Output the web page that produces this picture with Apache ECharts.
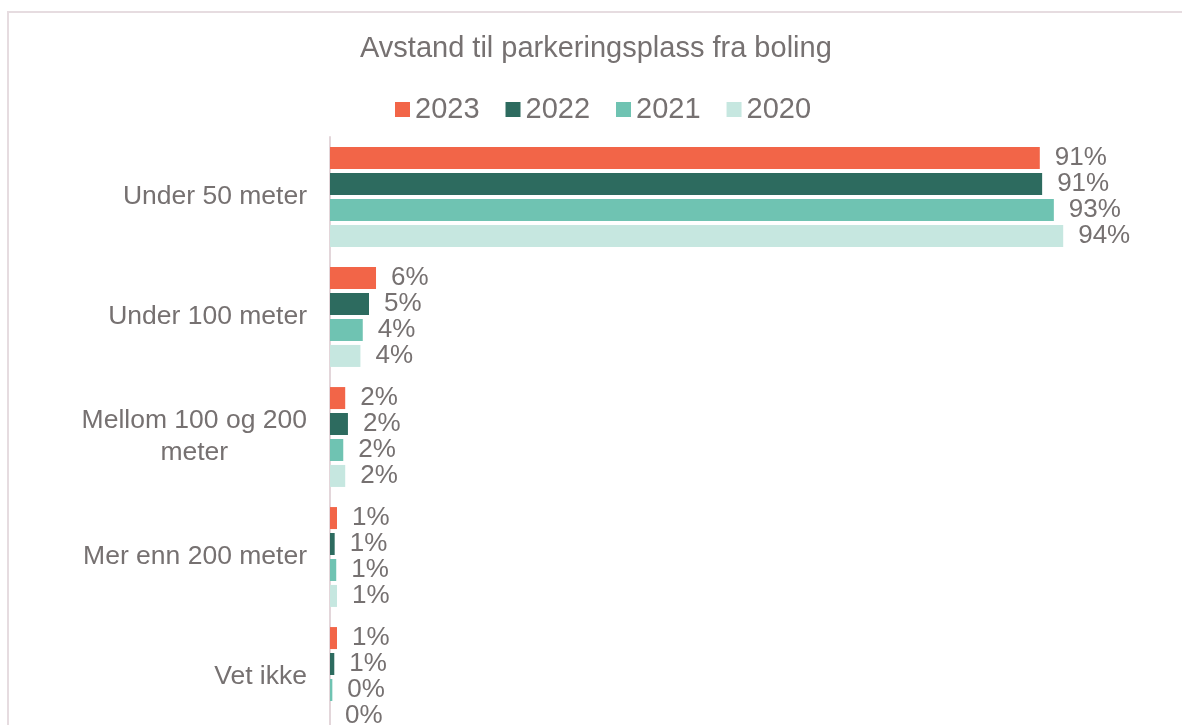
<!DOCTYPE html>
<html>
<head>
<meta charset="utf-8">
<script src="https://cdn.jsdelivr.net/npm/echarts@6/dist/echarts.min.js"></script>
<style>
  html, body { margin: 0; padding: 0; background: #fff; }
  #chart { width: 1182px; height: 725px; }
</style>
</head>
<body>
<div id="chart"></div>
<script>
// data (percent)
const categories = ['Under 50 meter', 'Under 100 meter', 'Mellom 100 og 200\nmeter', 'Mer enn 200 meter', 'Vet ikke']
const years = ['2023', '2022', '2021', '2020']
const values2023 = [91.0, 5.9, 1.95, 0.9, 0.9]
const values2022 = [91.3, 5.0, 2.3, 0.6, 0.55]
const values2021 = [92.8, 4.2, 1.7, 0.8, 0.3]
const values2020 = [94.0, 3.9, 1.95, 0.9, 0]
const colors = ['#F26548', '#2D6B5F', '#6FC3B2', '#C6E7E0']

const textColor = '#767171'
const fontFamily = "'Liberation Sans', Arial, sans-serif"

const chart = echarts.init(document.getElementById('chart'))

function makeSeries (name, data, color) {
  return {
    name: name,
    type: 'bar',
    data: data,
    barWidth: 22,
    barGap: '18%',
    itemStyle: { color: color },
    label: {
      show: true,
      position: 'right',
      distance: 15,
      color: textColor,
      fontSize: 26,
      fontFamily: fontFamily,
      formatter: function (p) {
        return Math.round(p.value) + '%'
      }
    }
  }
}

chart.setOption({
  animation: false,
  color: colors,
  graphic: [
    {
      type: 'rect',
      shape: { x: 8, y: 12, width: 1300, height: 900 },
      style: { fill: 'none', stroke: '#E6DCE0', lineWidth: 2 },
      silent: true
    }
  ],
  title: {
    text: 'Avstand til parkeringsplass fra boling',
    left: 360,
    top: 34,
    padding: 0,
    textStyle: {
      color: textColor,
      fontSize: 29,
      fontWeight: 'normal',
      fontFamily: fontFamily
    }
  },
  legend: {
    data: years,
    left: 395,
    top: 95,
    padding: 0,
    icon: 'rect',
    itemWidth: 15,
    itemHeight: 15,
    itemGap: 26,
    textStyle: {
      color: textColor,
      fontSize: 29,
      fontFamily: fontFamily
    }
  },
  grid: {
    left: 330,
    top: 137,
    width: 780,
    height: 600,
    outerBoundsMode: 'none'
  },
  xAxis: {
    type: 'value',
    min: 0,
    max: 100,
    show: false,
    splitLine: { show: false }
  },
  yAxis: {
    type: 'category',
    data: categories,
    inverse: true,
    axisTick: { show: false },
    axisLine: { lineStyle: { color: '#E3D6DA', width: 2 } },
    axisLabel: {
      margin: 23,
      color: textColor,
      fontSize: 26.5,
      fontFamily: fontFamily,
      lineHeight: 32,
      formatter: function (v) {
        return v.split('\n').map(function (s) { return '{c|' + s + '}' }).join('\n')
      },
      rich: {
        c: {
          align: 'center',
          color: textColor,
          fontSize: 26.5,
          lineHeight: 32,
          fontFamily: fontFamily
        }
      }
    }
  },
  series: [
    makeSeries(years[0], values2023, colors[0]),
    makeSeries(years[1], values2022, colors[1]),
    makeSeries(years[2], values2021, colors[2]),
    makeSeries(years[3], values2020, colors[3])
  ]
})
</script>
</body>
</html>
